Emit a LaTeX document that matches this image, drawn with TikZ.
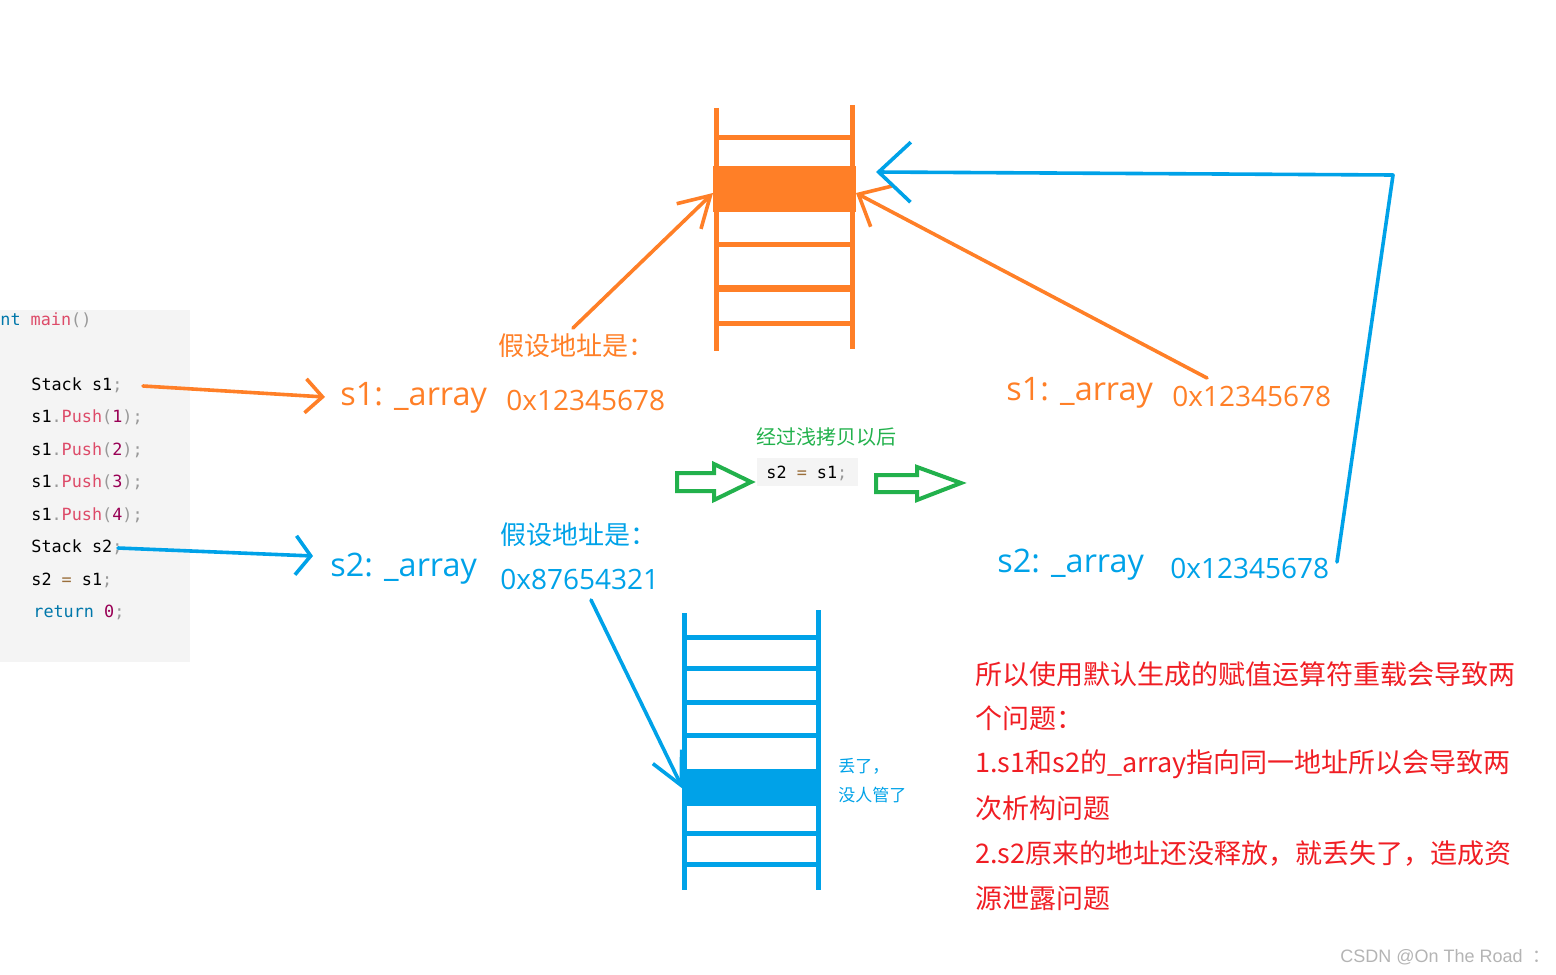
\documentclass[tikz,border=0pt]{standalone}
\usepackage{fontspec}
\usetikzlibrary{arrows.meta}
\newfontfamily\cjk{Noto Sans CJK SC}
\newfontfamily\lat{Open Sans}
\newfontfamily\codef{DejaVu Sans Mono}
\newfontfamily\wmf{Liberation Sans}
\definecolor{org}{HTML}{FF7F27}
\definecolor{blu}{HTML}{00A2E8}
\definecolor{grn}{HTML}{22B14C}
\definecolor{rd}{HTML}{F01E24}
\definecolor{codebg}{HTML}{F4F4F4}
\definecolor{kwb}{HTML}{0077AA}
\definecolor{fn}{HTML}{DD4A68}
\definecolor{pun}{HTML}{999999}
\definecolor{num}{HTML}{990055}
\definecolor{op}{HTML}{9A6E3A}
\definecolor{wm}{HTML}{B4B4B4}
\begin{document}
\begin{tikzpicture}[x=0.5pt,y=-0.5pt,
  lbl/.style={anchor=west,inner sep=0pt},
  codeln/.style={anchor=west,inner sep=0pt,font=\codef\fontsize{8.4pt}{8.4pt}\selectfont},
  big/.style={lbl,font=\lat\fontsize{14pt}{14pt}\selectfont},
  svar/.style={lbl,font=\lat\fontsize{16.2pt}{16.2pt}\selectfont},
  cjkbig/.style={lbl,font=\cjk\fontsize{13pt}{13pt}\selectfont},
  redtxt/.style={lbl,text=rd,font=\cjk\fontsize{13.5pt}{13.5pt}\selectfont},
  ladO/.style={draw=org,line width=2.5pt},
  ladB/.style={draw=blu,line width=2.5pt},
  hand/.style={line width=1.8pt,line cap=round,line join=round},
  hollow/.style={draw=grn,line width=2pt,fill=white,line join=miter}
]
\useasboundingbox (0,0) rectangle (1556,974);

% code block
\fill[codebg] (0,310) rectangle (190,662);
\node[codeln] (c0) at (0,320) {\textcolor{kwb}{nt} \textcolor{fn}{main}\textcolor{pun}{()}};
\node[codeln] (cs1) at (31,385) {Stack s1\textcolor{pun}{;}};
\node[codeln] (cp1) at (31,417) {s1\textcolor{pun}{.}\textcolor{fn}{Push}\textcolor{pun}{(}\textcolor{num}{1}\textcolor{pun}{);}};
\node[codeln] (cp2) at (31,450) {s1\textcolor{pun}{.}\textcolor{fn}{Push}\textcolor{pun}{(}\textcolor{num}{2}\textcolor{pun}{);}};
\node[codeln] (cp3) at (31,482) {s1\textcolor{pun}{.}\textcolor{fn}{Push}\textcolor{pun}{(}\textcolor{num}{3}\textcolor{pun}{);}};
\node[codeln] (cp4) at (31,515) {s1\textcolor{pun}{.}\textcolor{fn}{Push}\textcolor{pun}{(}\textcolor{num}{4}\textcolor{pun}{);}};
\node[codeln] (cs2) at (31,547) {Stack s2\textcolor{pun}{;}};
\node[codeln] (cas) at (31,580) {s2 \textcolor{op}{=} s1\textcolor{pun}{;}};
\node[codeln] (cret) at (33,612) {\textcolor{kwb}{return} \textcolor{num}{0}\textcolor{pun}{;}};

% left labels
\node[cjkbig,text=org] (ao1) at (498,346) {假设地址是：};
\node[svar,text=org] (l1) at (340,398) {s1: \_array};
\node[big,text=org] (h1) at (506,400) {0x12345678};
\node[cjkbig,text=blu] (ao2) at (500,535) {假设地址是：};
\node[svar,text=blu] (l2) at (330,569) {s2: \_array};
\node[big,text=blu] (h2) at (500,579) {0x87654321};

% right labels
\node[svar,text=org] (r1) at (1006,393) {s1: \_array};
\node[big,text=org] (rh1) at (1172,396) {0x12345678};
\node[svar,text=blu] (r2) at (997,565) {s2: \_array};
\node[big,text=blu] (rh2) at (1170,568) {0x12345678};

% middle
\node[lbl,text=grn,font=\cjk\fontsize{10pt}{10pt}\selectfont] (g) at (756,437) {经过浅拷贝以后};
\fill[codebg] (757,458) rectangle (858,486);
\node[codeln] (gc) at (766,473) {s2 \textcolor{op}{=} s1\textcolor{pun}{;}};
\draw[hollow] (677,473) -- (714,473) -- (714,464) -- (751,482) -- (714,500) -- (714,491) -- (677,491) -- cycle;
\draw[hollow] (876,475) -- (917,475) -- (917,467) -- (961,483) -- (917,500) -- (917,492) -- (876,492) -- cycle;

% orange ladder
\draw[ladO] (716,108) -- (716,351);
\draw[ladO] (852,105) -- (852,349);
\draw[ladO] (716,137) -- (852,137);
\draw[ladO] (716,244) -- (852,244);
\draw[ladO,line width=3.5pt] (716,288) -- (852,288);
\draw[ladO] (716,323) -- (852,323);
\fill[org] (713,166) rectangle (856,212);

% blue ladder
\draw[ladB] (684,613) -- (684,890);
\draw[ladB] (818,610) -- (818,890);
\foreach \yy in {637,668,702,735,833,864} \draw[ladB] (684,\yy) -- (818,\yy);
\fill[blu] (682,769) rectangle (821,806);
\node[lbl,text=blu,font=\cjk\fontsize{8.5pt}{8.5pt}\selectfont] (lost1) at (838,766) {丢了，};
\node[lbl,text=blu,font=\cjk\fontsize{8.5pt}{8.5pt}\selectfont] (lost2) at (838,795) {没人管了};

% connectors
\coordinate (a1s) at (143,386);
\coordinate (a1t) at (325,397);
\draw[hand,org,-{Straight Barb[length=8.5pt,width=17pt]}] (a1s) -- (a1t);
\coordinate (a2s) at (118,548);
\coordinate (a2t) at (313,556);
\draw[hand,blu,-{Straight Barb[length=7.5pt,width=19.5pt]}] (a2s) -- (a2t);
\coordinate (a3s) at (573,328);
\coordinate (a3t) at (713,193);
\draw[hand,org,-{Straight Barb[length=15pt,width=17.5pt]}] (a3s) -- (a3t);
\coordinate (a4s) at (1207,378);
\coordinate (a4t) at (856,193);
\draw[hand,org,-{Straight Barb[length=13pt,width=23pt]}] (a4s) -- (a4t);
\coordinate (a5s) at (1337,562);
\coordinate (a5c) at (1393,175);
\coordinate (a5t) at (876,172);
\draw[hand,blu,-{Straight Barb[length=16pt,width=30pt]}] (a5s) -- (a5c) -- (a5t);
\coordinate (a6s) at (591,600);
\coordinate (a6t) at (683,789);
\draw[hand,blu,-{Straight Barb[length=16pt,width=16pt]}] (a6s) -- (a6t);

% red text
\node[redtxt] (t1) at (975,674) {所以使用默认生成的赋值运算符重载会导致两};
\node[redtxt] (t2) at (975,718) {个问题：};
\node[redtxt] (t3) at (975,764) {1.s1和s2的\_array指向同一地址所以会导致两};
\node[redtxt] (t4) at (975,808) {次析构问题};
\node[redtxt] (t5) at (975,854) {2.s2原来的地址还没释放，就丢失了，造成资};
\node[redtxt] (t6) at (975,898) {源泄露问题};

% watermark
\node[lbl,text=wm,font=\wmf\fontsize{9pt}{9pt}\selectfont] (wmk) at (1340,957) {CSDN @On The Road \ {\cjk ：}};
\end{tikzpicture}
\end{document}
